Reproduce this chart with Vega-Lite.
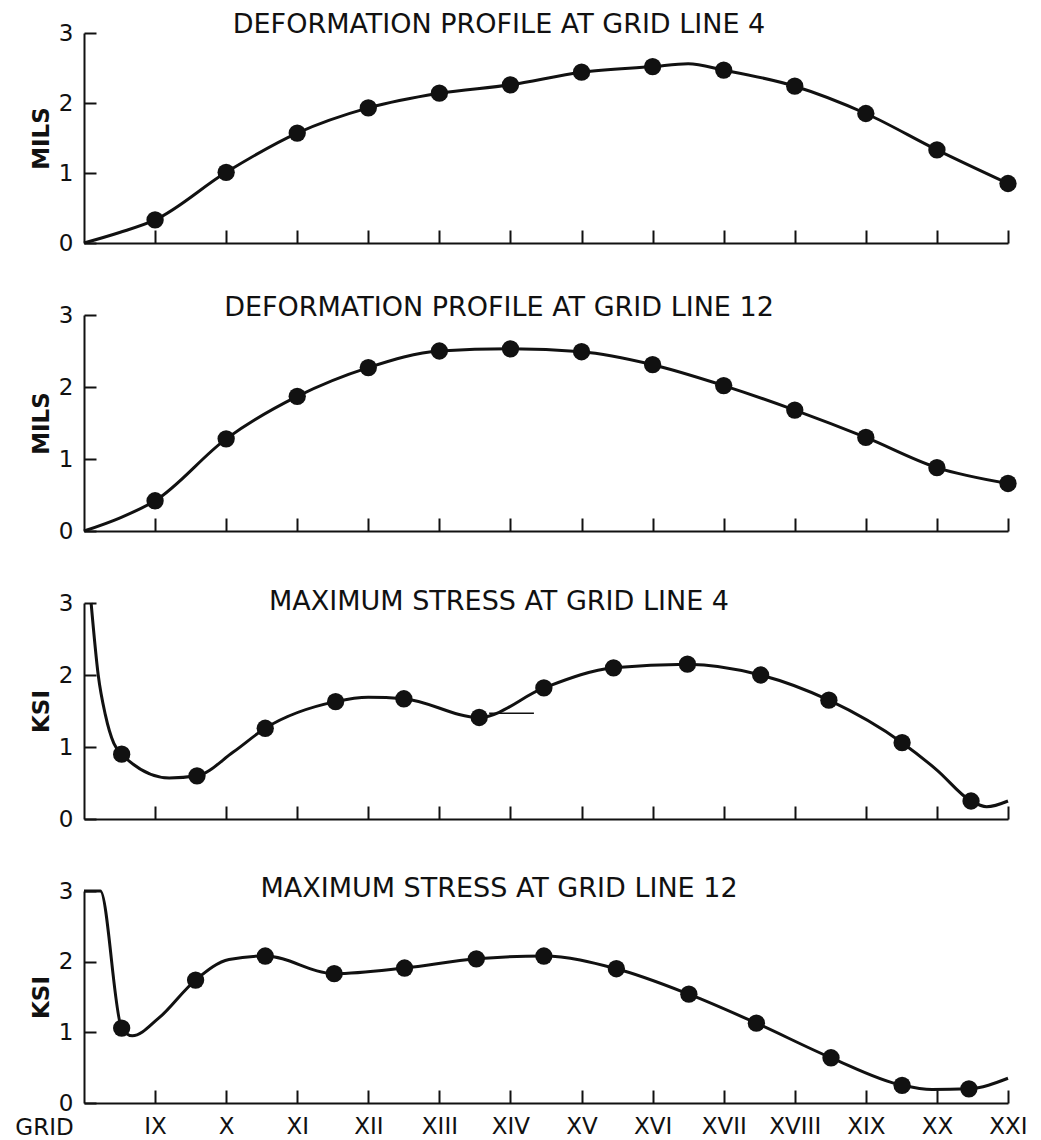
{
  "$schema": "https://vega.github.io/schema/vega-lite/v6.json",
  "background": "white",
  "padding": {"left": 14, "top": 11, "right": 10, "bottom": 4},
  "bounds": "flush",
  "spacing": 72,
  "datasets": {
    "curves": [
      {"panel": "A", "grid": 8, "value": 0, "dot": false},
      {"panel": "A", "grid": 8.5, "value": 0.15, "dot": false},
      {"panel": "A", "grid": 9, "value": 0.33, "dot": true},
      {"panel": "A", "grid": 10, "value": 1.01, "dot": true},
      {"panel": "A", "grid": 11, "value": 1.57, "dot": true},
      {"panel": "A", "grid": 12, "value": 1.93, "dot": true},
      {"panel": "A", "grid": 13, "value": 2.14, "dot": true},
      {"panel": "A", "grid": 14, "value": 2.26, "dot": true},
      {"panel": "A", "grid": 15, "value": 2.44, "dot": true},
      {"panel": "A", "grid": 16, "value": 2.52, "dot": true},
      {"panel": "A", "grid": 16.5, "value": 2.56, "dot": false},
      {"panel": "A", "grid": 17, "value": 2.47, "dot": true},
      {"panel": "A", "grid": 18, "value": 2.24, "dot": true},
      {"panel": "A", "grid": 19, "value": 1.85, "dot": true},
      {"panel": "A", "grid": 20, "value": 1.33, "dot": true},
      {"panel": "A", "grid": 21, "value": 0.85, "dot": true},

      {"panel": "B", "grid": 8, "value": 0, "dot": false},
      {"panel": "B", "grid": 8.5, "value": 0.18, "dot": false},
      {"panel": "B", "grid": 9, "value": 0.42, "dot": true},
      {"panel": "B", "grid": 10, "value": 1.28, "dot": true},
      {"panel": "B", "grid": 11, "value": 1.87, "dot": true},
      {"panel": "B", "grid": 12, "value": 2.27, "dot": true},
      {"panel": "B", "grid": 13, "value": 2.5, "dot": true},
      {"panel": "B", "grid": 14, "value": 2.53, "dot": true},
      {"panel": "B", "grid": 15, "value": 2.49, "dot": true},
      {"panel": "B", "grid": 16, "value": 2.31, "dot": true},
      {"panel": "B", "grid": 17, "value": 2.02, "dot": true},
      {"panel": "B", "grid": 18, "value": 1.68, "dot": true},
      {"panel": "B", "grid": 19, "value": 1.3, "dot": true},
      {"panel": "B", "grid": 20, "value": 0.88, "dot": true},
      {"panel": "B", "grid": 21, "value": 0.66, "dot": true},

      {"panel": "C", "grid": 8.1, "value": 3.0, "dot": false},
      {"panel": "C", "grid": 8.2, "value": 2.0, "dot": false},
      {"panel": "C", "grid": 8.3, "value": 1.45, "dot": false},
      {"panel": "C", "grid": 8.42, "value": 1.05, "dot": false},
      {"panel": "C", "grid": 8.53, "value": 0.9, "dot": true},
      {"panel": "C", "grid": 9.2, "value": 0.57, "dot": false},
      {"panel": "C", "grid": 9.59, "value": 0.6, "dot": true},
      {"panel": "C", "grid": 10.1, "value": 0.93, "dot": false},
      {"panel": "C", "grid": 10.55, "value": 1.26, "dot": true},
      {"panel": "C", "grid": 11.54, "value": 1.63, "dot": true},
      {"panel": "C", "grid": 12.0, "value": 1.69, "dot": false},
      {"panel": "C", "grid": 12.5, "value": 1.67, "dot": true},
      {"panel": "C", "grid": 13.56, "value": 1.41, "dot": true},
      {"panel": "C", "grid": 14.47, "value": 1.82, "dot": true},
      {"panel": "C", "grid": 15.45, "value": 2.1, "dot": true},
      {"panel": "C", "grid": 16.49, "value": 2.15, "dot": true},
      {"panel": "C", "grid": 17.52, "value": 2.0, "dot": true},
      {"panel": "C", "grid": 18.48, "value": 1.65, "dot": true},
      {"panel": "C", "grid": 19.51, "value": 1.06, "dot": true},
      {"panel": "C", "grid": 20.0, "value": 0.68, "dot": false},
      {"panel": "C", "grid": 20.48, "value": 0.25, "dot": true},
      {"panel": "C", "grid": 20.7, "value": 0.17, "dot": false},
      {"panel": "C", "grid": 21.0, "value": 0.25, "dot": false},

      {"panel": "D", "grid": 8.0, "value": 3.0, "dot": false},
      {"panel": "D", "grid": 8.23, "value": 3.0, "dot": false},
      {"panel": "D", "grid": 8.53, "value": 1.06, "dot": true},
      {"panel": "D", "grid": 8.68, "value": 0.95, "dot": false},
      {"panel": "D", "grid": 9.05, "value": 1.2, "dot": false},
      {"panel": "D", "grid": 9.57, "value": 1.74, "dot": true},
      {"panel": "D", "grid": 10.04, "value": 2.03, "dot": false},
      {"panel": "D", "grid": 10.55, "value": 2.08, "dot": true},
      {"panel": "D", "grid": 11.52, "value": 1.83, "dot": true},
      {"panel": "D", "grid": 12.51, "value": 1.91, "dot": true},
      {"panel": "D", "grid": 13.52, "value": 2.04, "dot": true},
      {"panel": "D", "grid": 14.47, "value": 2.08, "dot": true},
      {"panel": "D", "grid": 15.49, "value": 1.9, "dot": true},
      {"panel": "D", "grid": 16.51, "value": 1.54, "dot": true},
      {"panel": "D", "grid": 17.46, "value": 1.13, "dot": true},
      {"panel": "D", "grid": 18.51, "value": 0.64, "dot": true},
      {"panel": "D", "grid": 19.51, "value": 0.25, "dot": true},
      {"panel": "D", "grid": 19.93, "value": 0.19, "dot": false},
      {"panel": "D", "grid": 20.45, "value": 0.2, "dot": true},
      {"panel": "D", "grid": 21.0, "value": 0.35, "dot": false}
    ]
  },
  "config": {
    "view": {"stroke": null},
    "font": "DejaVu Sans",
    "axis": {
      "grid": false,
      "domainColor": "#111111",
      "domainWidth": 2,
      "tickColor": "#111111",
      "tickWidth": 2,
      "labelFont": "DejaVu Sans",
      "labelFontSize": 23,
      "labelColor": "#111111",
      "titleFont": "DejaVu Sans",
      "titleColor": "#111111",
      "labelFlush": false,
      "labelOverlap": false,
      "labelBound": false
    },
    "axisY": {"tickSize": -12, "labelPadding": 23, "titleFontSize": 23, "titleFontWeight": "bold", "titlePadding": 5},
    "axisX": {"tickSize": -13, "labelPadding": 25},
    "title": {"font": "DejaVu Sans", "fontSize": 27, "fontWeight": "normal", "color": "#111111", "anchor": "middle", "frame": "group", "dx": -47, "baseline": "middle"}
  },
  "vconcat": [
    {
      "width": 924, "height": 210,
      "title": {"text": "DEFORMATION PROFILE AT GRID LINE 4", "offset": -17},
      "data": {"name": "curves"},
      "transform": [{"filter": "datum.panel == 'A'"}],
      "encoding": {
        "x": {"field": "grid", "type": "quantitative", "scale": {"domain": [8, 21], "nice": false, "zero": false},
              "axis": {"values": [9,10,11,12,13,14,15,16,17,18,19,20,21], "labels": false, "title": null}},
        "y": {"field": "value", "type": "quantitative", "scale": {"domain": [0, 3], "nice": false},
              "axis": {"values": [0,1,2,3], "title": "MILS"}}
      },
      "layer": [
        {"mark": {"type": "line", "interpolate": "monotone", "color": "#111111", "strokeWidth": 3}},
        {"transform": [{"filter": "datum.dot"}], "mark": {"type": "point", "filled": true, "size": 300, "color": "#111111", "opacity": 1}}
      ]
    },
    {
      "width": 924, "height": 216,
      "title": {"text": "DEFORMATION PROFILE AT GRID LINE 12", "offset": -18},
      "data": {"name": "curves"},
      "transform": [{"filter": "datum.panel == 'B'"}],
      "encoding": {
        "x": {"field": "grid", "type": "quantitative", "scale": {"domain": [8, 21], "nice": false, "zero": false},
              "axis": {"values": [9,10,11,12,13,14,15,16,17,18,19,20,21], "labels": false, "title": null}},
        "y": {"field": "value", "type": "quantitative", "scale": {"domain": [0, 3], "nice": false},
              "axis": {"values": [0,1,2,3], "title": "MILS"}}
      },
      "layer": [
        {"mark": {"type": "line", "interpolate": "monotone", "color": "#111111", "strokeWidth": 3}},
        {"transform": [{"filter": "datum.dot"}], "mark": {"type": "point", "filled": true, "size": 300, "color": "#111111", "opacity": 1}}
      ]
    },
    {
      "width": 924, "height": 216,
      "title": {"text": "MAXIMUM STRESS AT GRID LINE 4", "offset": -24},
      "encoding": {
        "x": {"field": "grid", "type": "quantitative", "scale": {"domain": [8, 21], "nice": false, "zero": false},
              "axis": {"values": [9,10,11,12,13,14,15,16,17,18,19,20,21], "labels": false, "title": null}},
        "y": {"field": "value", "type": "quantitative", "scale": {"domain": [0, 3], "nice": false},
              "axis": {"values": [0,1,2,3], "title": "KSI"}}
      },
      "layer": [
        {"data": {"name": "curves"}, "transform": [{"filter": "datum.panel == 'C'"}],
         "mark": {"type": "line", "interpolate": "monotone", "color": "#111111", "strokeWidth": 3}},
        {"data": {"name": "curves"}, "transform": [{"filter": "datum.panel == 'C' && datum.dot"}],
         "mark": {"type": "point", "filled": true, "size": 300, "color": "#111111", "opacity": 1}},
        {"data": {"values": [{"grid": 13.7, "grid2": 14.33, "value": 1.47}]},
         "mark": {"type": "rule", "color": "#111111", "strokeWidth": 1.5},
         "encoding": {"x2": {"field": "grid2"}}}
      ]
    },
    {
      "width": 924, "height": 212,
      "title": {"text": "MAXIMUM STRESS AT GRID LINE 12", "offset": -23},
      "data": {"name": "curves"},
      "transform": [{"filter": "datum.panel == 'D'"}],
      "encoding": {
        "x": {"field": "grid", "type": "quantitative", "scale": {"domain": [8, 21], "nice": false, "zero": false},
              "axis": {"values": [9,10,11,12,13,14,15,16,17,18,19,20,21],
                       "labelExpr": "['VIII','IX','X','XI','XII','XIII','XIV','XV','XVI','XVII','XVIII','XIX','XX','XXI'][datum.value - 8]",
                       "title": "GRID", "titleAngle": 0, "titleX": -40, "titleY": 24, "titleAlign": "center", "titleBaseline": "middle",
                       "titleFontWeight": "normal", "titleFontSize": 23}},
        "y": {"field": "value", "type": "quantitative", "scale": {"domain": [0, 3], "nice": false},
              "axis": {"values": [0,1,2,3], "title": "KSI"}}
      },
      "layer": [
        {"mark": {"type": "line", "interpolate": "monotone", "color": "#111111", "strokeWidth": 3}},
        {"transform": [{"filter": "datum.dot"}], "mark": {"type": "point", "filled": true, "size": 300, "color": "#111111", "opacity": 1}}
      ]
    }
  ]
}
